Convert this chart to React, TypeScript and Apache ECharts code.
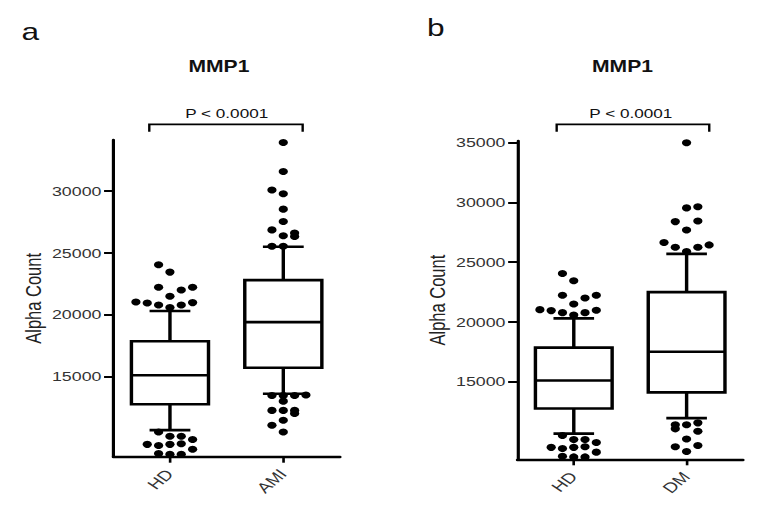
import React, { useEffect, useRef } from 'react';
import * as echarts from 'echarts';

// ---- data ----
const categoriesA = ['HD', 'AMI'];
const categoriesB = ['HD', 'DM'];
// box stats: [lower whisker, Q1, median, Q3, upper whisker]
const hdBox = [10650, 12750, 15100, 17850, 20300];
const amiBox = [13600, 15700, 19400, 22800, 25500];
const dmBox = [11950, 14100, 17500, 22500, 25700];
// outliers: [beeswarm column, value]
const hdOutliers = [
  [-1, 24050], [0, 23450], [-1, 22230], [1, 22000], [2, 22230], [0, 21500],
  [-3, 21030], [-2, 20950], [-1, 20780], [1, 20780], [2, 20980], [0, 20580],
  [-1, 10500], [0, 10150], [1, 10150], [2, 9900], [-2, 9500], [-1, 9400],
  [0, 9500], [1, 9550], [2, 9100], [-1, 8750], [0, 8700], [1, 8700],
];
const amiOutliers = [
  [0, 33950], [0, 31600], [-1, 30100], [0, 29800], [0, 28550], [0, 27550],
  [-1, 26870], [0, 26400], [1, 26620], [1, 26330], [-1, 25550], [0, 25550],
  [-1, 13450], [0, 13450], [1, 13450], [2, 13500], [0, 13000], [-1, 12250],
  [0, 12250], [1, 12250], [1, 12000], [0, 11450], [-1, 11050], [0, 10500],
];
const dmOutliers = [
  [0, 35000], [0, 29550], [1, 29650], [-1, 28400], [1, 28450], [0, 27700],
  [-2, 26650], [-1, 26250], [1, 26250], [2, 26450], [0, 25900],
  [-1, 11400], [0, 11400], [1, 11550], [-1, 11050], [1, 10850], [0, 10200],
  [-1, 9550], [1, 9650], [0, 9150],
];
const yTicksA = [15000, 20000, 25000, 30000];
const yTicksB = [15000, 20000, 25000, 30000, 35000];
const yRangeA = [8500, 34150];
const yRangeB = [8500, 35150];
const titleText = 'MMP1';
const pText = 'P < 0.0001';
const yName = 'Alpha Count';

// ---- layout ----
const CHART_W = 574;
const CHART_H = 510;
const STRETCH = 757 / CHART_W;
const SLOT = 0.1;
const FONT = '"Liberation Sans", Arial, sans-serif';

function boxRender(params: any, api: any) {
  const idx = api.value(0);
  const lo = api.coord([idx, api.value(1)]);
  const q1 = api.coord([idx, api.value(2)]);
  const med = api.coord([idx, api.value(3)]);
  const q3 = api.coord([idx, api.value(4)]);
  const hi = api.coord([idx, api.value(5)]);
  const band = api.size([1, 0])[0];
  const bw = band * 0.68;
  const cw = band * 0.36;
  const x = med[0];
  const st = { stroke: '#000', lineWidth: 2.6, fill: null };
  return {
    type: 'group',
    children: [
      { type: 'rect', shape: { x: x - bw / 2, y: q3[1], width: bw, height: q1[1] - q3[1] }, style: { stroke: '#000', lineWidth: 2.6, fill: '#fff' } },
      { type: 'line', shape: { x1: x - bw / 2, y1: med[1], x2: x + bw / 2, y2: med[1] }, style: st },
      { type: 'line', shape: { x1: x, y1: q3[1], x2: x, y2: hi[1] }, style: st },
      { type: 'line', shape: { x1: x, y1: q1[1], x2: x, y2: lo[1] }, style: st },
      { type: 'line', shape: { x1: x - cw / 2, y1: hi[1], x2: x + cw / 2, y2: hi[1] }, style: st },
      { type: 'line', shape: { x1: x - cw / 2, y1: lo[1], x2: x + cw / 2, y2: lo[1] }, style: st },
    ],
  };
}

function pts(catIdx: number, list: number[][]) {
  return list.map(([s, v]) => [catIdx + s * SLOT, v]);
}

function yAxis(grid: number, range: number[], ticks: number[]) {
  return {
    type: 'value', gridIndex: grid, min: range[0], max: range[1],
    name: yName, nameLocation: 'middle', nameRotate: 90, nameGap: 52,
    nameTextStyle: { fontFamily: FONT, fontSize: 16.5, color: '#222' },
    axisLine: { show: true, onZero: false, lineStyle: { color: '#000', width: 2.4 } },
    axisTick: { show: true, length: 7, customValues: ticks, lineStyle: { color: '#000', width: 2 } },
    axisLabel: {
      customValues: ticks, margin: 9, fontFamily: FONT, fontSize: 13.5, color: '#333',
      formatter: (v: number) => String(v),
    },
    splitLine: { show: false },
  };
}

function catAxis(grid: number, cats: string[]) {
  return {
    type: 'category', gridIndex: grid, data: cats, boundaryGap: true,
    axisLine: { show: true, onZero: false, lineStyle: { color: '#000', width: 2.4 } },
    axisTick: { show: true, alignWithLabel: true, length: 6, lineStyle: { color: '#000', width: 2 } },
    axisLabel: { rotate: 48, margin: 15, fontFamily: FONT, fontSize: 14.5, color: '#333' },
  };
}

function hiddenX(grid: number) {
  return {
    type: 'value', gridIndex: grid, min: -0.5, max: 1.5, show: false,
    axisLine: { show: false, onZero: false }, splitLine: { show: false },
  };
}

function txt(x: number, y: number, text: string, size: number, weight = 'normal') {
  return {
    type: 'text', x, y,
    style: { text, fill: '#111', font: `${weight} ${size}px ${FONT}`, textAlign: 'center', verticalAlign: 'middle' },
  };
}

function bracket(x1: number, x2: number, y: number, drop: number) {
  return {
    type: 'polyline',
    shape: { points: [[x1, y + drop], [x1, y], [x2, y], [x2, y + drop]] },
    style: { stroke: '#000', lineWidth: 1.8, fill: null },
  };
}

const option: any = {
  animation: false,
  backgroundColor: '#fff',
  grid: [
    { left: 85.9, right: 316.2, top: 140, bottom: 53.3 },
    { left: 392.3, right: 10.6, top: 141, bottom: 50.7 },
  ],
  xAxis: [catAxis(0, categoriesA), catAxis(1, categoriesB), hiddenX(0), hiddenX(1)],
  yAxis: [yAxis(0, yRangeA, yTicksA), yAxis(1, yRangeB, yTicksB)],
  series: [
    {
      type: 'custom', xAxisIndex: 0, yAxisIndex: 0, renderItem: boxRender,
      encode: { x: 0, y: [1, 2, 3, 4, 5] },
      data: [[0, ...hdBox], [1, ...amiBox]], z: 2,
    },
    {
      type: 'custom', xAxisIndex: 1, yAxisIndex: 1, renderItem: boxRender,
      encode: { x: 0, y: [1, 2, 3, 4, 5] },
      data: [[0, ...hdBox], [1, ...dmBox]], z: 2,
    },
    {
      type: 'scatter', xAxisIndex: 2, yAxisIndex: 0, symbol: 'circle', symbolSize: 7,
      itemStyle: { color: '#000', opacity: 1 }, z: 3,
      data: [...pts(0, hdOutliers), ...pts(1, amiOutliers)],
    },
    {
      type: 'scatter', xAxisIndex: 3, yAxisIndex: 1, symbol: 'circle', symbolSize: 7,
      itemStyle: { color: '#000', opacity: 1 }, z: 3,
      data: [...pts(0, hdOutliers), ...pts(1, dmOutliers)],
    },
  ],
  graphic: [
    txt(23, 32, 'a', 24),
    txt(330.5, 28, 'b', 24),
    txt(166, 66, titleText, 16, 'bold'),
    txt(472, 66, titleText, 16, 'bold'),
    txt(171.9, 113, pText, 13),
    txt(478.3, 113, pText, 13),
    bracket(113.2, 229.5, 124.3, 7.5),
    bracket(422.1, 537.8, 124.3, 7.5),
  ],
};

export default function App() {
  const ref = useRef<HTMLDivElement>(null);
  useEffect(() => {
    document.body.style.margin = '0';
    const chart = echarts.init(ref.current!, null, { renderer: 'svg' });
    chart.setOption(option);
    return () => chart.dispose();
  }, []);
  return (
    <div style={{ width: 757, height: 510, overflow: 'hidden', background: '#fff' }}>
      <div
        ref={ref}
        style={{ width: CHART_W, height: CHART_H, transform: `scaleX(${STRETCH})`, transformOrigin: '0 0' }}
      />
    </div>
  );
}
